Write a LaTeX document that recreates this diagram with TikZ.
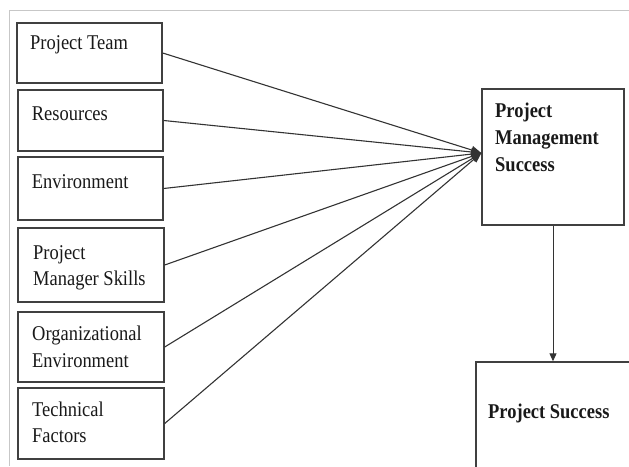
\documentclass[tikz,border=0pt]{standalone}
\usepackage{fontspec}
\setmainfont{Liberation Serif}[FakeStretch=0.88]
\usetikzlibrary{arrows.meta}
\tikzset{
  fbox/.style={draw=black!75, line width=1.4pt, rectangle, inner sep=0pt},
  lbl/.style={inner sep=0pt, anchor=base west, align=left, text=black!90,
    font=\fontsize{21}{26.5}\selectfont},
  blbl/.style={lbl, font=\fontsize{21}{27}\selectfont\bfseries},
  conn/.style={draw=black!80, line width=1.1pt, -{Triangle[length=10pt,width=8pt]}},
  frame/.style={draw=black!22, line width=1pt}
}
\begin{document}
\begin{tikzpicture}[x=1pt,y=-1pt]
\useasboundingbox (0,0) rectangle (629,466);
\clip (0,0) rectangle (629,466);
% outer frame
\coordinate (f1) at (629,10.5);
\coordinate (f2) at (9.3,10.5);
\coordinate (f3) at (9.3,466);
\draw[frame] (f1) -- (f2) -- (f3);
% left boxes
\node[fbox, minimum width=145pt, minimum height=60pt] (team) at (89.5,53) {};
\node[fbox, minimum width=145pt, minimum height=61pt] (res)  at (90.5,120.5) {};
\node[fbox, minimum width=145pt, minimum height=63pt] (env)  at (90.5,188.5) {};
\node[fbox, minimum width=146pt, minimum height=74pt] (pmsk) at (91,265) {};
\node[fbox, minimum width=146pt, minimum height=70pt] (org)  at (91,347) {};
\node[fbox, minimum width=146pt, minimum height=71pt] (tech) at (91,423.5) {};
% labels (base anchor = baseline of last line)
\node[lbl] (tteam) at (30,49) {Project Team};
\node[lbl] (tres) at (31.7,120.5) {Resources};
\node[lbl] (tenv) at (31.7,188) {Environment};
\node[lbl] (tpmsk) at (33,285.7) {Project\\Manager Skills};
\node[lbl] (torg) at (32,367) {Organizational\\Environment};
\node[lbl] (ttech) at (32,442.7) {Technical\\Factors};
% right boxes
\node[fbox, minimum width=142pt, minimum height=136pt] (pm) at (553,157) {};
\node[blbl] (tpm) at (495,171) {Project\\Management\\Success};
\node[fbox, minimum width=224pt, minimum height=158pt] (ps) at (588,441) {};
\node[blbl] (tps) at (488,418) {Project Success};
% connectors
\coordinate (tip) at ([yshift=4pt]pm.west);
\draw[conn] (team.east) -- (tip);
\draw[conn] (res.east) -- (tip);
\draw[conn] (env.east) -- (tip);
\draw[conn] (pmsk.east) -- (tip);
\draw[conn] (org.east) -- (tip);
\draw[conn] (tech.east) -- (tip);
\draw[draw=black!80, line width=1pt, -{Triangle[length=8pt,width=7pt]}] (pm.south) -- (pm.south |- ps.north);
\end{tikzpicture}
\end{document}
